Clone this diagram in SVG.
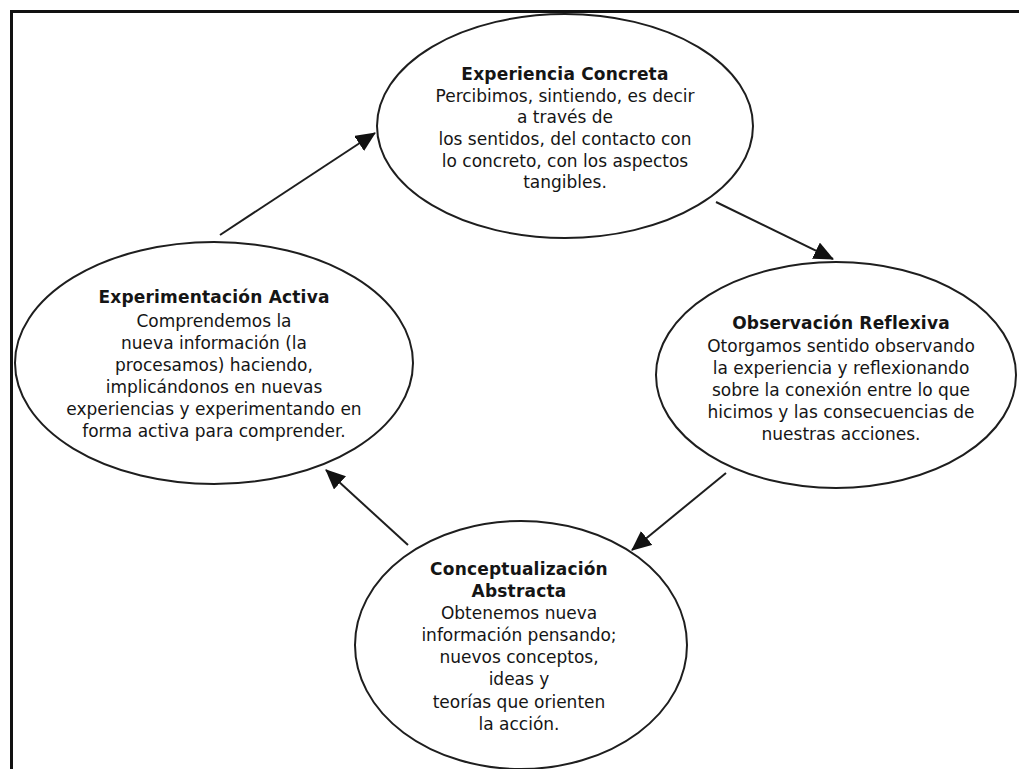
<svg xmlns="http://www.w3.org/2000/svg" width="1019" height="769" viewBox="0 0 1019 769">
  <style>
    .frame { fill: none; stroke: #111; stroke-width: 3; }
    .node { fill: #fff; stroke: #1e1e1e; stroke-width: 2; }
    .edge { fill: none; stroke: #1e1e1e; stroke-width: 2; marker-end: url(#head); }
    text { font-family: "DejaVu Sans", Verdana, sans-serif; font-size: 17px; fill: #151515; text-anchor: middle; }
    .title { font-weight: bold; letter-spacing: 0.2px; }
  </style>
  <defs>
    <marker id="head" viewBox="0 0 20 18" markerWidth="20" markerHeight="18" markerUnits="userSpaceOnUse" refX="19" refY="9" orient="auto">
      <path d="M0,0 L20,9 L0,18 z" fill="#111"/>
    </marker>
  </defs>

  <rect width="1019" height="769" fill="#fff"/>
  <!-- page frame: top and left rules only -->
  <path class="frame" d="M11.5,769 L11.5,11.5 L1019,11.5"/>

  <g id="connectors">
    <line class="edge" x1="220" y1="235" x2="375" y2="133"/>
    <line class="edge" x1="716" y1="202" x2="833" y2="259"/>
    <line class="edge" x1="726" y1="473" x2="632" y2="550"/>
    <line class="edge" x1="408" y1="545" x2="326" y2="470"/>
  </g>

  <g id="experiencia-concreta">
    <ellipse class="node" cx="565" cy="126" rx="188" ry="112"/>
    <text class="title" x="565" y="80">Experiencia Concreta</text>
    <text x="565" y="102">Percibimos, sintiendo, es decir</text>
    <text x="565" y="123">a través de</text>
    <text x="565" y="145">los sentidos, del contacto con</text>
    <text x="565" y="167">lo concreto, con los aspectos</text>
    <text x="565" y="188">tangibles.</text>
  </g>

  <g id="observacion-reflexiva">
    <ellipse class="node" cx="836" cy="375" rx="180" ry="113"/>
    <text class="title" x="841" y="329">Observación Reflexiva</text>
    <text x="841" y="352">Otorgamos sentido observando</text>
    <text x="841" y="374">la experiencia y reflexionando</text>
    <text x="841" y="396">sobre la conexión entre lo que</text>
    <text x="841" y="418">hicimos y las consecuencias de</text>
    <text x="841" y="440">nuestras acciones.</text>
  </g>

  <g id="conceptualizacion-abstracta">
    <ellipse class="node" cx="521" cy="645" rx="166" ry="124"/>
    <text class="title" x="519" y="575">Conceptualización</text>
    <text class="title" x="519" y="597">Abstracta</text>
    <text x="519" y="619">Obtenemos nueva</text>
    <text x="519" y="641">información pensando;</text>
    <text x="519" y="663">nuevos conceptos,</text>
    <text x="519" y="685">ideas y</text>
    <text x="519" y="708">teorías que orienten</text>
    <text x="519" y="730">la acción.</text>
  </g>

  <g id="experimentacion-activa">
    <ellipse class="node" cx="214" cy="363" rx="199" ry="121"/>
    <text class="title" x="214" y="303">Experimentación Activa</text>
    <text x="214" y="327">Comprendemos la</text>
    <text x="214" y="349">nueva información (la</text>
    <text x="214" y="371">procesamos) haciendo,</text>
    <text x="214" y="393">implicándonos en nuevas</text>
    <text x="214" y="415">experiencias y experimentando en</text>
    <text x="214" y="437">forma activa para comprender.</text>
  </g>
</svg>
